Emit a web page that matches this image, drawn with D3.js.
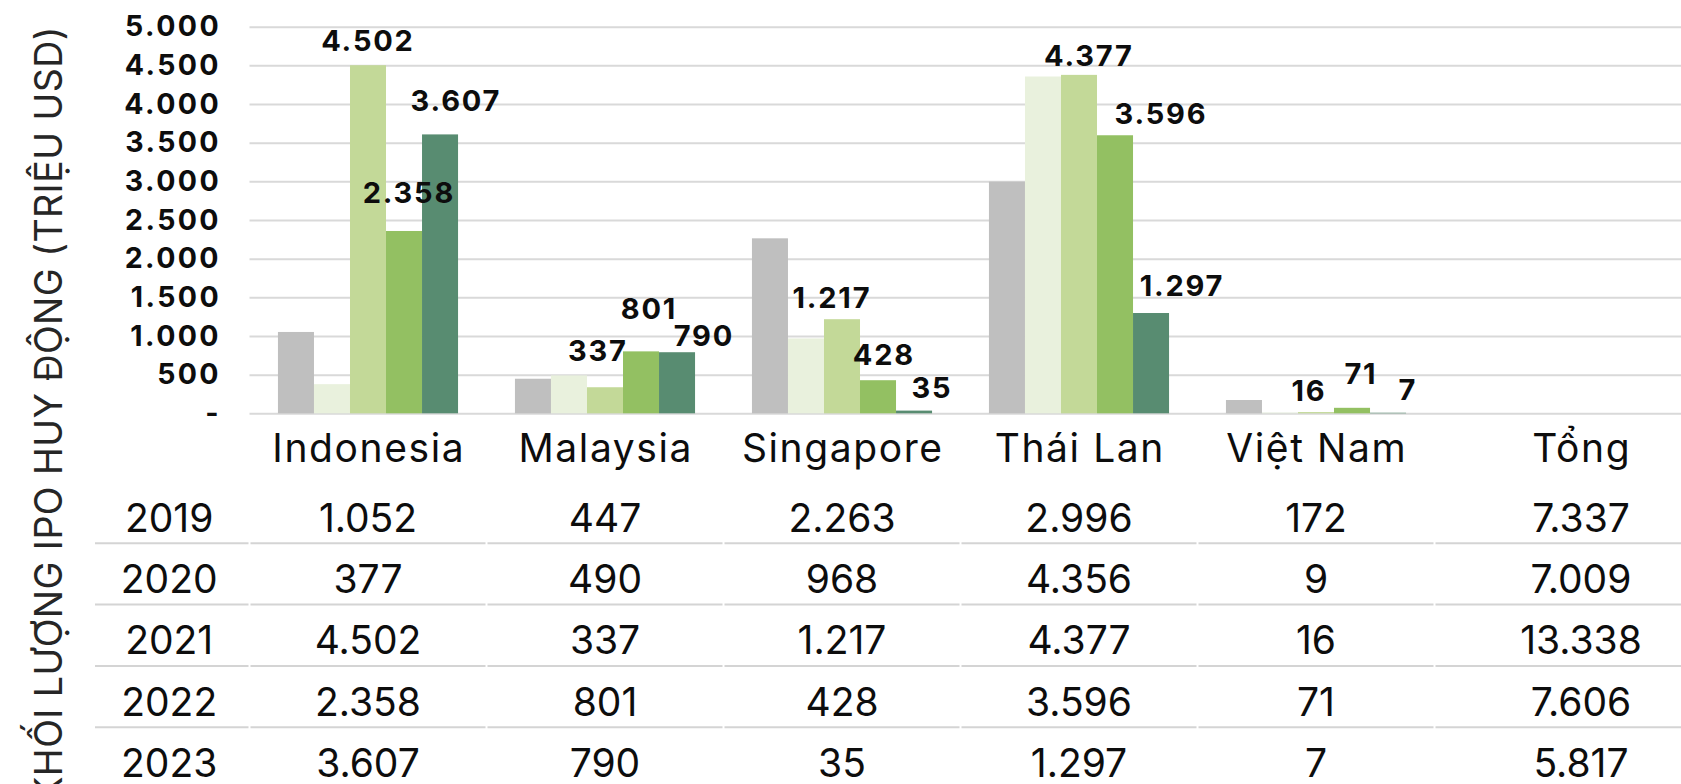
<!DOCTYPE html>
<html>
<head>
<meta charset="utf-8">
<script src="https://cdn.jsdelivr.net/npm/d3@7/dist/d3.min.js"></script>
<style>
  html, body { margin: 0; padding: 0; background: #ffffff; }
  svg { display: block; }
  text { font-family: Inter, "Noto Sans", sans-serif; }
</style>
</head>
<body>
<svg id="chart" width="1681" height="784"></svg>
<script>
// Countries on the category axis; the last column is the row total.
const categories = ["Indonesia", "Malaysia", "Singapore", "Thái Lan", "Việt Nam", "Tổng"];
const years = ["2019", "2020", "2021", "2022", "2023"];

// IPO proceeds per year (million USD), one value per country
const v2019 = [1052, 447, 2263, 2996, 172];
const v2020 = [377, 490, 968, 4356, 9];
const v2021 = [4502, 337, 1217, 4377, 16];
const v2022 = [2358, 801, 428, 3596, 71];
const v2023 = [3607, 790, 35, 1297, 7];

// Totals shown in the "Tổng" column of the data table
const totals = [7337, 7009, 13338, 7606, 5817];

const yTicks = [0, 500, 1000, 1500, 2000, 2500, 3000, 3500, 4000, 4500, 5000];
const yTitle = "KHỐI LƯỢNG IPO HUY ĐỘNG (TRIỆU USD)";

// Years whose bars carry value labels
const labeledYears = ["2021", "2022", "2023"];

const seriesByYear = { "2019": v2019, "2020": v2020, "2021": v2021, "2022": v2022, "2023": v2023 };

// ---- layout ----
const colors = { "2019": "#bfbfbf", "2020": "#e9f1dd", "2021": "#c3d998", "2022": "#93c062", "2023": "#588c71" };

// Hand-placed value labels: offset [dx, dy] of label centre from bar top centre
const labelOffset = {
  "2021": [[-1, -25], [-8, -37], [-11, -22], [9, -19], [-8, -22]],
  "2022": [[4, -38], [7, -43], [5, -26], [45, -22], [8, -34]],
  "2023": [[15, -34], [26, -17], [17, -23], [30, -28], [19, -23]]
};

const svg = d3.select("#chart");
const plotLeft = 249.5, plotRight = 1671.5, gridRight = 1681;
const plotTop = 26.7, plotBottom = 413.3;

const x = d3.scaleBand().domain(categories).range([plotLeft, plotRight]).padding(0);
const xInner = d3.scaleBand().domain(years).range([0, x.bandwidth()])
  .paddingInner(0).paddingOuter(0.79);
const y = d3.scaleLinear().domain([0, 5000]).range([plotBottom, plotTop]);

const locale = d3.formatLocale({ decimal: ",", thousands: ".", grouping: [3], currency: ["", ""] });
const fmt = locale.format(",d");

// gridlines
const grid = svg.append("g").attr("class", "grid")
  .attr("transform", `translate(${plotLeft},0)`)
  .call(d3.axisLeft(y).tickValues(yTicks).tickSize(-(gridRight - plotLeft)).tickFormat(""));
grid.select(".domain").remove();
grid.selectAll(".tick line").attr("stroke", "#d9d9d9").attr("stroke-width", 2);

// y axis labels
const yAxis = svg.append("g")
  .attr("transform", "translate(221,0)")
  .call(d3.axisLeft(y).tickValues(yTicks).tickSize(0).tickPadding(0)
    .tickFormat(d => d === 0 ? "-" : fmt(d)));
yAxis.select(".domain").remove();
yAxis.selectAll("text")
  .attr("font-family", "Inter, sans-serif")
  .attr("font-size", 28.5)
  .attr("font-weight", 700)
  .attr("fill", "#0d0d0d")
  .attr("letter-spacing", 2.4);

// bars
const countries = categories.slice(0, 5);
const groups = svg.append("g").selectAll("g")
  .data(countries)
  .join("g")
  .attr("transform", d => `translate(${x(d)},0)`);

groups.selectAll("rect")
  .data((c, i) => years.map(yr => ({ yr, value: seriesByYear[yr][i] })))
  .join("rect")
  .attr("x", d => xInner(d.yr))
  .attr("width", xInner.bandwidth())
  .attr("y", d => y(d.value))
  .attr("height", d => y(0) - y(d.value))
  .attr("fill", d => colors[d.yr]);

// value labels
const labelData = [];
labeledYears.forEach(yr => {
  countries.forEach((c, i) => {
    const v = seriesByYear[yr][i];
    const off = labelOffset[yr][i];
    labelData.push({
      text: fmt(v),
      cx: x(c) + xInner(yr) + xInner.bandwidth() / 2 + off[0],
      cy: y(v) + off[1]
    });
  });
});
svg.append("g").selectAll("text")
  .data(labelData)
  .join("text")
  .attr("x", d => d.cx + 0.9)
  .attr("y", d => d.cy)
  .attr("text-anchor", "middle")
  .attr("dominant-baseline", "central")
  .attr("font-size", 29)
  .attr("font-weight", 700)
  .attr("letter-spacing", 1.8)
  .attr("fill", "#0d0d0d")
  .text(d => d.text);

// category axis (table header)
const totalShift = 28; // the totals column text sits further right
const colX = c => x(c) + x.bandwidth() / 2 + (c === "Tổng" ? totalShift : 0);
const xAxis = svg.append("g")
  .attr("transform", `translate(0,${plotBottom})`)
  .call(d3.axisBottom(x).tickSize(0).tickPadding(0));
xAxis.select(".domain").remove();
xAxis.selectAll(".tick").attr("transform", d => `translate(${colX(d) + 0.8},0)`);
xAxis.selectAll("text")
  .attr("y", 48.7)
  .attr("dy", 0)
  .attr("font-family", "Inter, sans-serif")
  .attr("font-size", 39)
  .attr("font-weight", 400)
  .attr("letter-spacing", 1.6)
  .attr("fill", "#0d0d0d");

// data table
const rowBaseline0 = 531.7, rowStep = 61.3, tableLeft = 95;
const rowHeaderX = 169.2;
const table = svg.append("g");

years.forEach((yr, r) => {
  const base = rowBaseline0 + r * rowStep;
  const vals = seriesByYear[yr].concat([totals[r]]);
  table.append("text")
    .attr("x", rowHeaderX).attr("y", base)
    .attr("text-anchor", "middle")
    .attr("font-size", 39).attr("fill", "#0d0d0d")
    .text(yr);
  table.append("g").selectAll("text")
    .data(categories)
    .join("text")
    .attr("x", c => colX(c))
    .attr("y", base)
    .attr("text-anchor", "middle")
    .attr("font-size", 39)
    .attr("fill", "#0d0d0d")
    .text((c, i) => fmt(vals[i]));
  // cell borders below each row except the last
  if (r < years.length - 1) {
    const ly = base + 11.6;
    const segs = [[tableLeft, plotLeft - 1]].concat(
      categories.map((c, i) => [x(c) + 1, i === categories.length - 1 ? gridRight : x(c) + x.bandwidth() - 1]));
    table.append("g").selectAll("line")
      .data(segs)
      .join("line")
      .attr("x1", d => d[0]).attr("x2", d => d[1])
      .attr("y1", ly).attr("y2", ly)
      .attr("stroke", "#d4d4d4").attr("stroke-width", 2);
  }
});

// y axis title
svg.append("text")
  .attr("transform", "translate(61.5,26) rotate(-90)")
  .attr("text-anchor", "end")
  .attr("font-size", 37.5)
  .attr("letter-spacing", 0.45)
  .attr("fill", "#262626")
  .text(yTitle);
</script>
</body>
</html>
